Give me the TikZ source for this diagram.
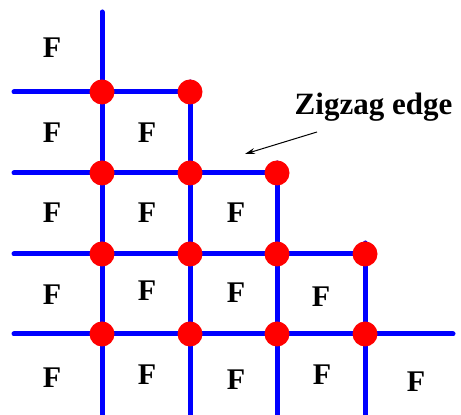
\documentclass[tikz,border=0pt]{standalone}
\usepackage{fontspec}
\setmainfont{Liberation Serif}
\usetikzlibrary{arrows.meta, backgrounds}
\definecolor{bondBlue}{HTML}{0000FF}
\definecolor{siteRed}{HTML}{FF0000}
\tikzset{
  bondB/.style={draw=bondBlue, line width=2.5pt, line cap=round},
  siteR/.style={circle, fill=siteRed, inner sep=0pt, minimum size=12.5pt},
  labelF/.style={font=\bfseries\fontsize{15}{18}\selectfont, inner sep=0pt},
  arrowK/.style={-{Stealth[length=5pt, width=3pt]}, black, line width=0.5pt},
}
\begin{document}
\begin{tikzpicture}[x=0.5pt, y=-0.5pt]
  \useasboundingbox (0,0) rectangle (461,415);
  % lattice sites
  \node[siteR] (s11) at (102,92) {};
  \node[siteR] (s12) at (190,92) {};
  \node[siteR] (s21) at (102,173) {};
  \node[siteR] (s22) at (190,173) {};
  \node[siteR] (s23) at (277,173) {};
  \node[siteR] (s31) at (102,254) {};
  \node[siteR] (s32) at (190,254) {};
  \node[siteR] (s33) at (277,254) {};
  \node[siteR] (s34) at (365,254) {};
  \node[siteR] (s41) at (102,334) {};
  \node[siteR] (s42) at (190,334) {};
  \node[siteR] (s43) at (277,334) {};
  \node[siteR] (s44) at (365,334) {};
  % free ends of the bonds
  \coordinate (top1) at (102,12);  \coordinate (bot1) at (102,415);
  \coordinate (top2) at (190,82);  \coordinate (bot2) at (190,415);
  \coordinate (top3) at (277,163); \coordinate (bot3) at (277,415);
  \coordinate (top4) at (365,243); \coordinate (bot4) at (365,415);
  \coordinate (left1) at (14,92);  \coordinate (left2) at (14,173);
  \coordinate (left3) at (14,254); \coordinate (left4) at (14,334);
  \coordinate (right4) at (453,334);
  \begin{scope}[on background layer]
    \draw[bondB] (top1) -- (s11.center) -- (s21.center) -- (s31.center) -- (s41.center) -- (bot1);
    \draw[bondB] (top2) -- (s12.center) -- (s22.center) -- (s32.center) -- (s42.center) -- (bot2);
    \draw[bondB] (top3) -- (s23.center) -- (s33.center) -- (s43.center) -- (bot3);
    \draw[bondB] (top4) -- (s34.center) -- (s44.center) -- (bot4);
    \draw[bondB] (left1) -- (s11.center) -- (s12.center);
    \draw[bondB] (left2) -- (s21.center) -- (s22.center) -- (s23.center);
    \draw[bondB] (left3) -- (s31.center) -- (s32.center) -- (s33.center) -- (s34.center);
    \draw[bondB] (left4) -- (s41.center) -- (s42.center) -- (s43.center) -- (s44.center) -- (right4);
  \end{scope}
  % plaquette labels
  \foreach \px/\py [count=\i] in {52/48, 52/133, 147/133, 52/213, 147/213, 236/213,
      52/295, 147/291, 236/293, 321/297, 52/378, 147/375, 236/380, 322/375, 416/382}
    \node[labelF] (f\i) at (\px,\py) {F};
  % edge label
  \node[labelF, font=\bfseries\fontsize{15.5}{18}\selectfont, anchor=base] (zig) at (373.5,115) {Zigzag edge};
  \coordinate (tail) at (317,132);
  \coordinate (tip) at (245,154);
  \draw[arrowK] (tail) -- (tip);
\end{tikzpicture}
\end{document}
